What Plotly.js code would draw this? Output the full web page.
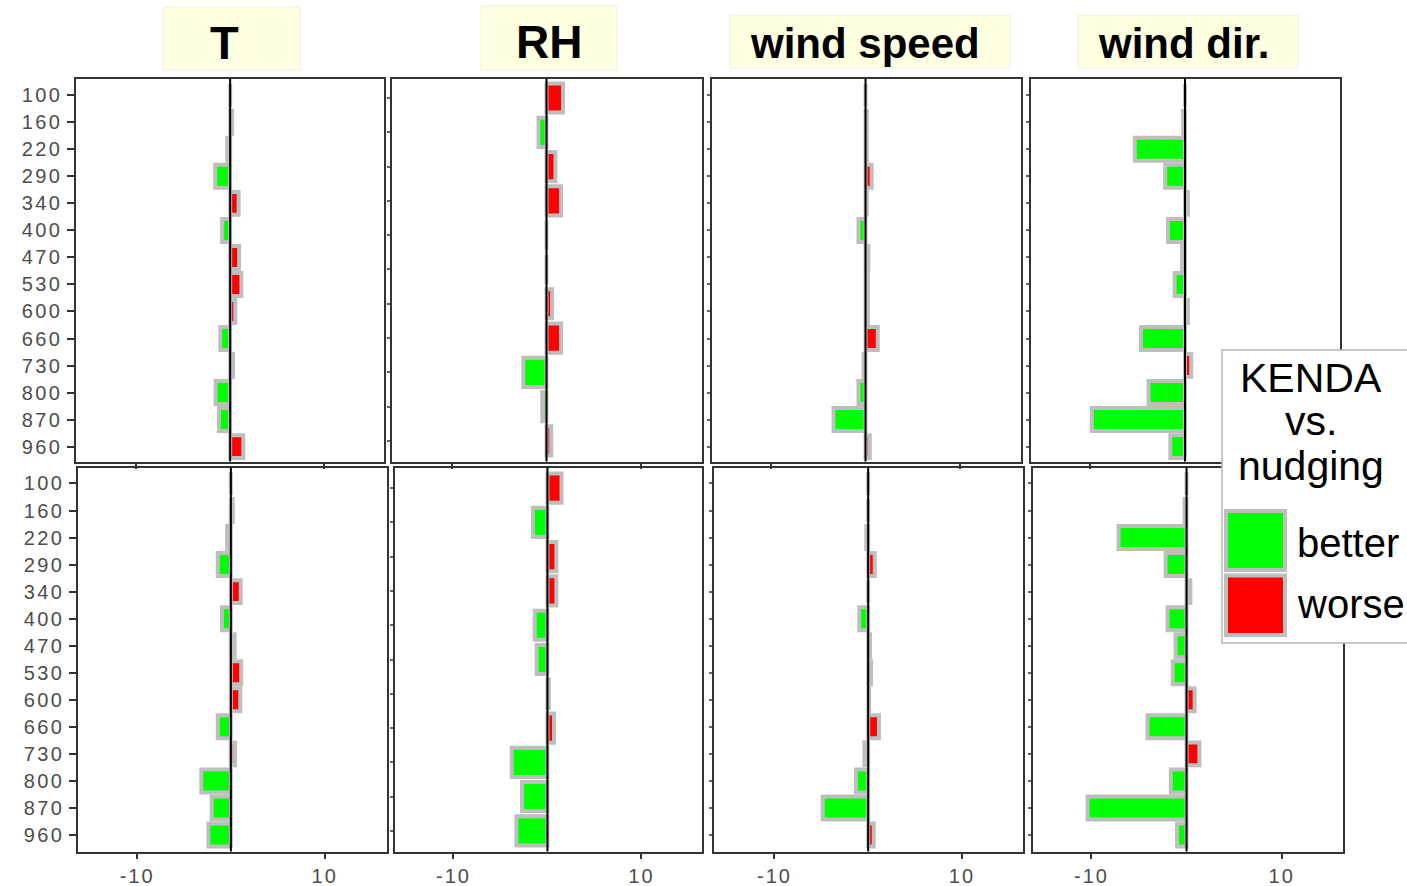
<!DOCTYPE html>
<html><head><meta charset="utf-8">
<script src="https://cdn.plot.ly/plotly-3.0.1.min.js"></script>
<style>html,body{margin:0;padding:0;background:#fff;overflow:hidden}#chart{width:1407px;height:886px;}
#chart g[class^="y"][class$="tick"] text{letter-spacing:2.5px;}
#chart g[class^="x"][class$="tick"] text{letter-spacing:2px;}
</style>
</head><body><div id="chart"></div>
<script>
// ---- data ----
const levels   = ['100','160','220','290','340','400','470','530','600','660','730','800','870','960'];
const rhLevels = ['290','340','400','470','530','600','660','730','800','870','960'];
const variables = ['T','RH','wind speed','wind dir.'];
const legendTitle = ['KENDA','vs.','nudging'];
const legendLabels = ['better','worse'];

// top row
const T_top  = [0, 0.2, -0.3, -1.6, 0.9, -0.85, 0.95, 1.2, 0.55, -1.05, 0.3, -1.55, -1.2, 1.4];
const RH_top = [1.75, -0.85, 0.95, 1.55, 0, 0, 0.6, 1.55, -2.45, -0.45, 0.5];
const WS_top = [0, 0.15, 0.15, 0.65, 0.15, -0.75, 0.3, 0.25, 0.25, 1.3, -0.2, -0.75, -3.4, 0.45];
const WD_top = [0, -0.2, -5.3, -2.1, 0.3, -1.8, -0.3, -1.1, 0.3, -4.65, 0.65, -3.85, -9.85, -1.55];
// bottom row
const T_bot  = [0, 0.2, -0.4, -1.4, 1.05, -0.95, 0.4, 1.1, 1.0, -1.4, 0.45, -3.15, -2.05, -2.4];
const RH_bot = [1.5, -1.55, 0.95, 0.95, -1.35, -1.15, 0.15, 0.7, -3.8, -2.7, -3.3];
const WS_bot = [0, 0, -0.2, 0.7, 0, -0.95, 0.2, 0.3, 0.1, 1.15, -0.4, -1.3, -4.85, 0.6];
const WD_bot = [0, -0.2, -7.15, -2.2, 0.4, -2.0, -1.15, -1.45, 0.85, -4.1, 1.35, -1.65, -10.4, -1.0];

const xTickVals = [-10, 10];
const xTickText = ['-10', '10'];

// ---- layout helpers ----
const W = 1407, H = 886;
const px = x => x / W;
const py = y => 1 - y / H;
const GREEN = '#00ff00', RED = '#ff0000', GRAY = 'rgb(190,190,190)';

const panels = [
  {vals: T_top,  cats: levels,   row: 0, col: 0},
  {vals: RH_top, cats: rhLevels, row: 0, col: 1},
  {vals: WS_top, cats: levels,   row: 0, col: 2},
  {vals: WD_top, cats: levels,   row: 0, col: 3},
  {vals: T_bot,  cats: levels,   row: 1, col: 0},
  {vals: RH_bot, cats: rhLevels, row: 1, col: 1},
  {vals: WS_bot, cats: levels,   row: 1, col: 2},
  {vals: WD_bot, cats: levels,   row: 1, col: 3}
];
const xDomPx = [
  [[75.5,383.5],[391.5,701.5],[711.5,1020.5],[1030.5,1339.5]],
  [[77.5,386.5],[394.5,701.5],[714,1023],[1032.5,1342.5]]
];
const yDomPx = [[78.5,461.5],[467.5,851.5]];
const xRanges = [
  [[-16.5,16.36],[-16.45,16.45],[-16.35,16.45],[-16.33,16.33]],
  [[-16.36,16.6],[-16.27,16.39],[-16.45,16.52],[-16.2,16.4]]
];
const yRanges14 = [[13.55,-0.62],[13.61,-0.59]];
const yRanges11 = [[10.6,-0.57],[10.6,-0.6]];

const tickFont = {family: 'Liberation Sans, Arial, sans-serif', size: 20, color: '#4d4d4d'};

const data = [], shapes = [], annotations = [];
const layout = {
  width: W, height: H, margin: {l:0, r:0, t:0, b:0},
  paper_bgcolor: '#fff', plot_bgcolor: '#fff', showlegend: false
};

panels.forEach((p, i) => {
  const k = i + 1;
  const xa = 'x' + k, ya = 'y' + k;
  const idx = p.cats.map((_, j) => j);
  data.push({
    type: 'bar', orientation: 'h',
    x: p.vals, y: idx,
    width: 0.85,
    marker: {color: p.vals.map(v => v < 0 ? GREEN : RED), line: {color: GRAY, width: 4}},
    xaxis: xa, yaxis: ya, hoverinfo: 'skip'
  });
  const xd = xDomPx[p.row][p.col];
  const yd = yDomPx[p.row];
  layout['xaxis' + k] = {
    domain: [px(xd[0]), px(xd[1])], range: xRanges[p.row][p.col], anchor: ya,
    tickmode: 'array', tickvals: xTickVals, ticktext: xTickText,
    showticklabels: p.row === 1, ticks: 'outside', ticklen: 5, tickwidth: 2, tickcolor: '#333',
    tickfont: tickFont, showline: true, mirror: true, linecolor: '#333', linewidth: 2,
    showgrid: false, zeroline: false, fixedrange: true
  };
  const yr = p.cats.length === 14 ? yRanges14[p.row] : yRanges11[p.row];
  layout['yaxis' + k] = {
    domain: [py(yd[1]), py(yd[0])], range: yr, anchor: xa,
    tickmode: 'array', tickvals: idx, ticktext: p.cats,
    showticklabels: p.col === 0, ticks: 'outside', ticklen: p.col === 0 ? 7 : 3,
    tickwidth: 2, tickcolor: p.col === 0 ? '#333' : '#666',
    tickfont: tickFont, showline: true, mirror: true, linecolor: '#333', linewidth: 2,
    showgrid: false, zeroline: false, fixedrange: true
  };
  shapes.push({type: 'line', xref: xa, yref: ya + ' domain', x0: 0, x1: 0, y0: 0, y1: 1,
               line: {color: '#000', width: 2}, layer: 'above'});
});

// title boxes
const titleBoxes = [[163,300,7,70],[481,617,6,70],[730,1010,15,68],[1078,1298,15,68]];
const titleCenters = [[224,42.2,47],[549,42,46],[865,43.3,42],[1183,43.3,42]];
variables.forEach((v, i) => {
  const b = titleBoxes[i];
  shapes.push({type: 'rect', xref: 'paper', yref: 'paper', x0: px(b[0]), x1: px(b[1]), y0: py(b[3]), y1: py(b[2]),
               fillcolor: 'rgb(255,255,226)', line: {color: 'rgb(240,240,222)', width: 1}, layer: 'below'});
  const c = titleCenters[i];
  annotations.push({xref: 'paper', yref: 'paper', x: px(c[0]), y: py(c[1]), xanchor: 'center', yanchor: 'middle',
                    text: '<b>' + v + '</b>', showarrow: false,
                    font: {family: 'Liberation Sans, Arial, sans-serif', size: c[2], color: '#000'}});
});

// legend box
shapes.push({type: 'rect', xref: 'paper', yref: 'paper', x0: px(1222), x1: px(1430), y0: py(643), y1: py(350),
             fillcolor: '#fff', line: {color: '#b5b5b5', width: 1.5}, layer: 'above'});
const legTitleY = [377.5, 421, 465.5];
legendTitle.forEach((t, i) => {
  annotations.push({xref: 'paper', yref: 'paper', x: px(1310.5), y: py(legTitleY[i]), xanchor: 'center', yanchor: 'middle',
                    text: t, showarrow: false, font: {family: 'Liberation Sans, Arial, sans-serif', size: 41, color: '#000'}});
});
const swatchY = [[511,570],[575.5,635]];
const legColors = [GREEN, RED];
const labelY = [543, 604];
legendLabels.forEach((t, i) => {
  shapes.push({type: 'rect', xref: 'paper', yref: 'paper', x0: px(1226), x1: px(1285), y0: py(swatchY[i][1]), y1: py(swatchY[i][0]),
               fillcolor: legColors[i], line: {color: GRAY, width: 4}, layer: 'above'});
  annotations.push({xref: 'paper', yref: 'paper', x: px(1295), y: py(labelY[i]), xanchor: 'left', yanchor: 'middle',
                    text: t, showarrow: false, font: {family: 'Liberation Sans, Arial, sans-serif', size: 40, color: '#000'}});
});

layout.shapes = shapes;
layout.annotations = annotations;
Plotly.newPlot('chart', data, layout, {staticPlot: true, displayModeBar: false});
</script>
</body></html>
